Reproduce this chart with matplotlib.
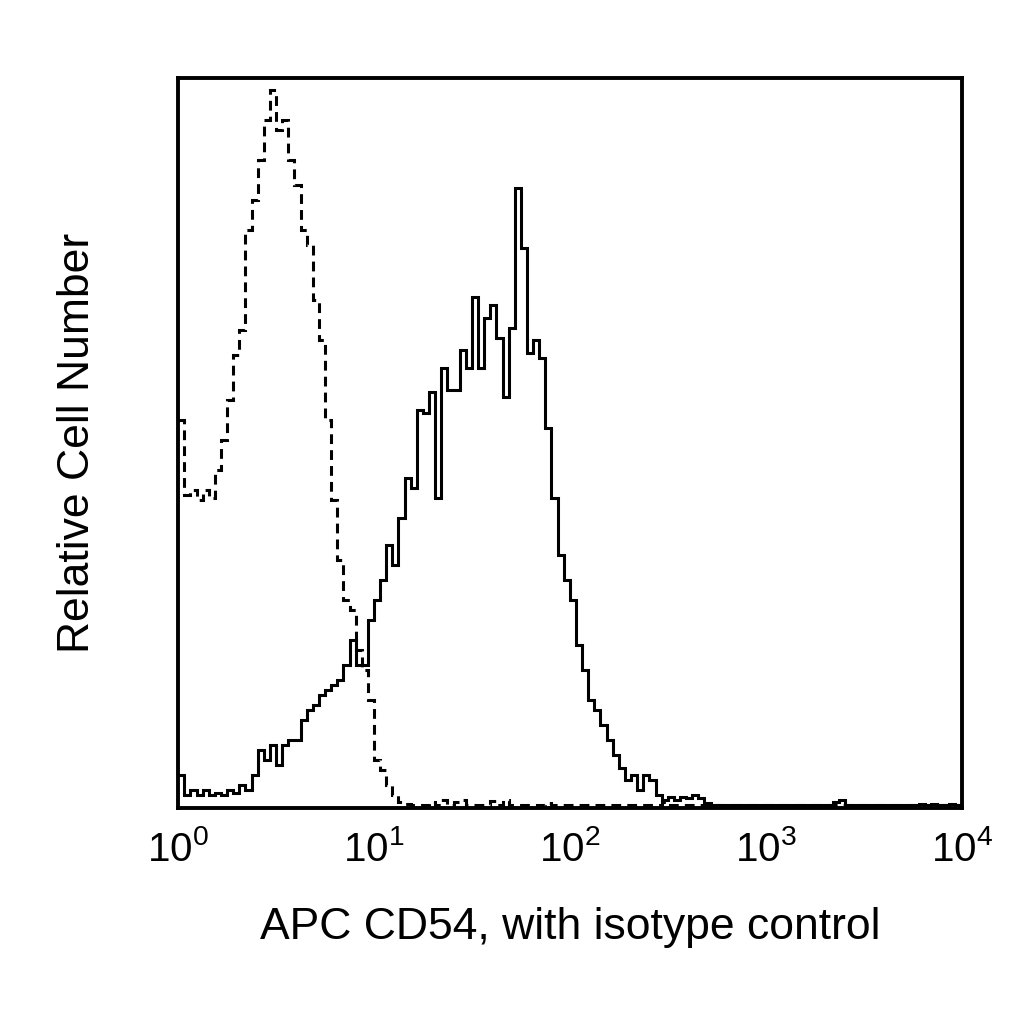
import matplotlib
matplotlib.use("Agg")
import matplotlib.pyplot as plt
import numpy as np

plt.rcParams["font.family"] = ["Liberation Sans", "DejaVu Sans"]
plt.rcParams["mathtext.fontset"] = "custom"
plt.rcParams["mathtext.rm"] = "Liberation Sans"

# 128 log-spaced channels from 10^0 to 10^4, relative cell counts
n_bins = 128
cd54_counts = [
    33, 13, 18, 13, 18, 13, 15, 13, 18, 15,
    23, 18, 33, 58, 48, 63, 43, 63, 68, 68,
    88, 98, 103, 113, 118, 123, 128, 143, 168, 143,
    143, 188, 208, 228, 263, 243, 290, 330, 320, 398,
    395, 416, 310, 440, 418, 418, 458, 440, 511, 440,
    490, 503, 470, 411, 480, 620, 560, 455, 468, 450,
    380, 310, 253, 228, 208, 163, 138, 108, 98, 83,
    68, 53, 40, 28, 33, 18, 33, 28, 13, 8,
    11, 8, 11, 10, 13, 10, 5, 3, 3, 3,
    3, 3, 3, 3, 3, 3, 3, 3, 3, 3,
    3, 3, 3, 3, 3, 3, 3, 6, 8, 3,
    3, 3, 3, 3, 3, 3, 3, 3, 3, 3,
    3, 4, 3, 4, 3, 3, 4, 3,
]
isotype_counts = [
    388, 313, 318, 308, 318, 310, 338, 368, 408, 453,
    478, 578, 608, 648, 688, 718, 678, 688, 648, 623,
    578, 563, 508, 468, 388, 308, 248, 208, 198, 158,
    138, 108, 48, 38, 23, 13, 6, 4, 3, 3,
    3, 6, 3, 8, 3, 6, 8, 3, 3, 3,
    3, 7, 3, 8, 3, 3, 3, 3, 3, 3,
    5, 3, 3, 3, 3, 3, 3, 3, 3, 3,
    3, 3, 3, 3, 3, 3, 3, 3, 3, 6,
    3, 3, 3, 3, 3, 3, 3, 3, 3, 3,
    3, 3, 3, 3, 3, 3, 3, 3, 3, 3,
    3, 3, 3, 3, 3, 3, 3, 3, 3, 3,
    3, 3, 3, 3, 3, 3, 3, 3, 3, 3,
    3, 3, 3, 3, 3, 3, 3, 3,
]
edges = np.logspace(0, 4, n_bins + 1)

fig = plt.figure(figsize=(10.24, 10.24), dpi=100)
ax = fig.add_axes([0.174, 0.211, 0.765, 0.713])

ax.stairs(isotype_counts, edges, baseline=None, color="black", linewidth=2.2,
          linestyle=(0, (3.2, 2.0)))
ax.stairs(cd54_counts, edges, baseline=None, color="black", linewidth=2.2)

ax.set_xscale("log")
ax.set_xlim(1, 1e4)
ax.set_ylim(0, 730)
ax.set_xticks([1, 10, 100, 1000, 10000])
ax.minorticks_off()
ax.set_yticks([])
ax.tick_params(axis="x", length=0, pad=16, labelsize=29)

for spine in ax.spines.values():
    spine.set_linewidth(2.8)

ax.set_xlabel("APC CD54, with isotype control", fontsize=32, labelpad=27)
ax.set_ylabel("Relative Cell Number", fontsize=32, labelpad=58)

fig.savefig("out.png", dpi=100)
